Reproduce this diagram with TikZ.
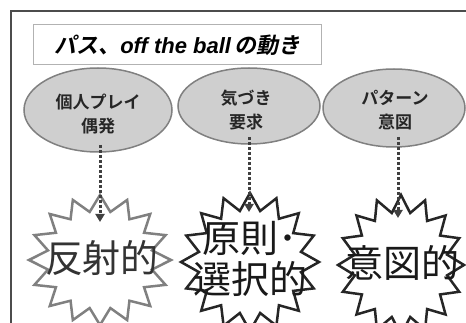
\documentclass[tikz,border=0pt]{standalone}
\usepackage{fontspec}
\setmainfont{Liberation Sans}
\newfontfamily\lat{Liberation Sans}
\newfontfamily\jp{Noto Sans CJK JP}
\newfontfamily\jpb{Noto Sans CJK JP Bold}
\newfontfamily\jpbi[FakeSlant=0.2]{Noto Sans CJK JP Bold}
\usetikzlibrary{arrows.meta,shapes.geometric}
\tikzset{
  frameline/.style={draw=black!70, line width=1.5pt},
  titlebox/.style={draw=black!30, line width=1pt, fill=white},
  bubble/.style={ellipse, draw=black!50, line width=1.5pt, fill=black!19, align=center, inner sep=0pt},
  bubtext/.style={align=center, font=\jpb\fontsize{17}{24}\selectfont, text=black!85},
  darr/.style={draw=black!75, line width=3pt, dash pattern=on 3pt off 2pt, -{Triangle[length=8pt,width=9pt]}},
  starline/.style={line width=2.5pt, line join=miter, fill=white},
  bigtext/.style={font=\jp\fontsize{38}{41}\selectfont, align=center, inner sep=0pt}
}
\begin{document}
\begin{tikzpicture}[x=1pt,y=-1pt]
\useasboundingbox (0,0) rectangle (466,323);
\begin{scope}
\clip (0,0) rectangle (466,323);
\draw[frameline] (11,11) rectangle (480,340);
\end{scope}
\node[titlebox, minimum width=288pt, minimum height=40pt, anchor=north west] (title) at (33,24) {};
\node[anchor=center] (tt) at ([yshift=-1pt]title.center) {\jpbi\fontsize{22}{24}\selectfont パス、{\lat\bfseries\itshape off the ball\,}の動き};
% ellipses
\node[bubble, minimum width=148pt, minimum height=84pt] (e1) at (98,110) {};
\node[bubble, minimum width=142pt, minimum height=76pt] (e2) at (249,106) {};
\node[bubble, minimum width=142pt, minimum height=78pt] (e3) at (394,108) {};
\node[bubtext] (t1) at (98,114) {個人プレイ\\偶発};
\node[bubtext] (t2) at (246,110) {気づき\\要求};
\node[bubtext] (t3) at (395,110) {パターン\\意図};
% stars
\draw[starline, draw=black!50] plot[samples at={0,...,31}, variable=\i]
  ({100+(mod(\i,2)==0 ? 71 : 53)*cos(90+\i*11.25)}, {260-(mod(\i,2)==0 ? 65 : 49)*sin(90+\i*11.25)}) -- cycle;
\draw[starline, draw=black!85] plot[samples at={0,...,31}, variable=\i]
  ({250+(mod(\i,2)==0 ? 69 : 52)*cos(90+\i*11.25)}, {262-(mod(\i,2)==0 ? 69 : 52)*sin(90+\i*11.25)}) -- cycle;
\draw[starline, draw=black!85] plot[samples at={0,...,31}, variable=\i]
  ({401+(mod(\i,2)==0 ? 63 : 47)*cos(90+\i*11.25)}, {265-(mod(\i,2)==0 ? 70 : 53)*sin(90+\i*11.25)}) -- cycle;
% arrows
\coordinate (a1s) at (100,145); \coordinate (a1e) at (100,222);
\coordinate (a2s) at (249,137); \coordinate (a2e) at (249,212);
\coordinate (a3s) at (398,137); \coordinate (a3e) at (398,218);
\draw[darr] (a1s) -- (a1e);
\draw[darr] (a2s) -- (a2e);
\draw[darr] (a3s) -- (a3e);
% big texts
\node[bigtext, text=black!80] (s1) at (102,258) {反射的};
\node[bigtext, text=black!90] (s2) at (250,259) {原則･\\選択的};
\node[bigtext, text=black!90] (s3) at (402,263) {意図的};
\end{tikzpicture}
\end{document}
